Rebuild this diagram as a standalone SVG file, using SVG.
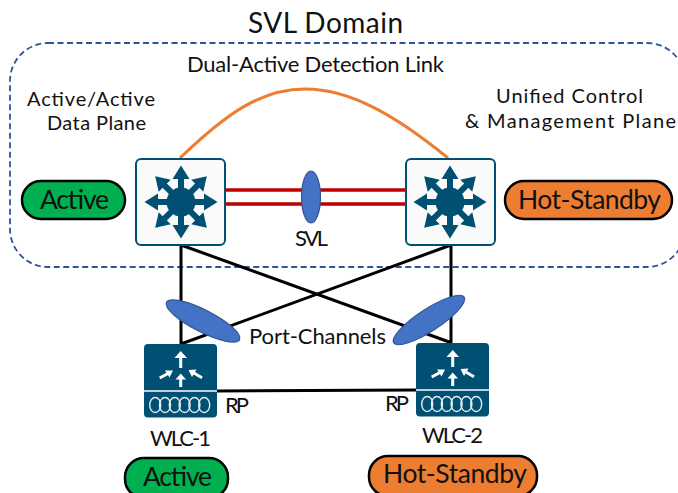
<svg xmlns="http://www.w3.org/2000/svg" width="678" height="493" viewBox="0 0 678 493">
<style>
text{font-family:"Lato","Open Sans","Liberation Sans",sans-serif;fill:#111;text-anchor:middle}
.lbl{font-size:22px}
.sm{font-size:20px}
.pill{font-size:26.500px}
.pl{stroke:#000;stroke-width:2.500}
.blk{stroke:#000;stroke-width:3;fill:none}
.red{stroke:#c00000;stroke-width:3.500;fill:none}
.el{fill:#4472c4;stroke:#2f5597;stroke-width:1.200}
.sw{fill:#fafafa;stroke:#005073;stroke-width:2}
.wl{fill:#005073}
.wa{stroke:#fff;stroke-width:3;fill:none}
.wh{fill:#fff}
</style>
<defs>
<g id="arrow"><path d="M-3 -10V-23H-8.500L0 -36.500L8.500 -23H3V-10Z" fill="#005073"/></g>
<g id="hub"><circle r="14.500" fill="#005073"/>
<use href="#arrow"/><use href="#arrow" transform="rotate(45)"/><use href="#arrow" transform="rotate(90)"/><use href="#arrow" transform="rotate(135)"/><use href="#arrow" transform="rotate(180)"/><use href="#arrow" transform="rotate(225)"/><use href="#arrow" transform="rotate(270)"/><use href="#arrow" transform="rotate(315)"/></g>
<g id="wlc">
<rect x="0" y="0" width="73" height="73.500" rx="4" class="wl"/>
<path d="M0 47H73" stroke="#fff" stroke-width="1.500"/>
<g class="wa">
<path d="M36.700 24V12"/>
<path d="M36.700 43V34"/>
<path d="M15.700 34L24 29.500"/>
<path d="M58 33.700L49 28.500"/>
</g>
<g class="wh">
<path d="M30.500 14L36.700 7L43 14Z"/>
<path d="M31.500 35.500L36.700 29.500L42 35.500Z"/>
<path d="M21 26.500L29 26.500L25.500 33.500Z"/>
<path d="M52.500 25.500L44.500 26L48 33Z"/>
</g>
<g fill="none" stroke="#fff" stroke-width="1.400" opacity=".9">
<ellipse cx="11.200" cy="61" rx="5.500" ry="7.500"/><ellipse cx="21" cy="61" rx="5.500" ry="7.500"/><ellipse cx="30.800" cy="61" rx="5.500" ry="7.500"/><ellipse cx="40.600" cy="61" rx="5.500" ry="7.500"/><ellipse cx="50.400" cy="61" rx="5.500" ry="7.500"/><ellipse cx="60.200" cy="61" rx="5.500" ry="7.500"/>
</g>
</g>
</defs>
<rect width="678" height="493" fill="#fff"/>
<text x="325.500" y="33" font-size="28" textLength="155">SVL Domain</text>
<rect id="domain" x="10" y="43" width="675" height="224" rx="38" fill="none" stroke="#2f5597" stroke-width="1.800" stroke-dasharray="6 3.500"/>
<g id="connectors">
<path d="M180 158C225 115 260 89 305 89S395 115 448 158" fill="none" stroke="#ed7d31" stroke-width="3"/>
<path class="red" d="M225 190H406M225 204H406"/>
<path class="blk" d="M181 245V344M181 245L452 343M451 245L181 344M451 245V343M217 391L416 390"/>
</g>
<g id="svl-link"><ellipse class="el" cx="311" cy="197" rx="9.500" ry="26"/><text class="lbl" x="311.500" y="246" textLength="33">SVL</text></g>
<g id="switch-1"><rect class="sw" x="136" y="159" width="89" height="86" rx="5"/><use href="#hub" x="181" y="202"/></g>
<g id="switch-2"><rect class="sw" x="406" y="159" width="89" height="86" rx="5"/><use href="#hub" x="450" y="202"/></g>
<g id="pc-left"><ellipse class="el" cx="203" cy="321" rx="41" ry="11" transform="rotate(27 203 321)"/></g>
<g id="pc-right"><ellipse class="el" cx="429" cy="320" rx="42" ry="11" transform="rotate(-33 429 320)"/></g>
<g id="wlc-1"><use href="#wlc" x="144" y="344"/><text class="lbl" x="237" y="413" textLength="24">RP</text><text class="lbl" x="180.500" y="446" textLength="61">WLC-1</text></g>
<g id="wlc-2"><use href="#wlc" x="416" y="343"/><text class="lbl" x="397" y="411" textLength="24">RP</text><text class="lbl" x="452.500" y="443" textLength="61">WLC-2</text></g>
<text class="lbl" x="315.500" y="72" textLength="257">Dual-Active Detection Link</text>
<text class="sm" x="91" y="106" textLength="128">Active/Active</text>
<text class="sm" x="96.500" y="130" textLength="99">Data Plane</text>
<text class="sm" x="569.500" y="103" textLength="147">Unified Control</text>
<text class="sm" x="570.500" y="128" textLength="211">&amp; Management Plane</text>
<text class="lbl" x="317.500" y="344" textLength="137">Port-Channels</text>
<g id="state-active"><rect class="pl" x="22" y="181" width="103" height="38" rx="19" fill="#00b050"/><text class="pill" x="74.500" y="209" textLength="69">Active</text></g>
<g id="state-standby"><rect class="pl" x="505" y="181" width="167" height="38" rx="19" fill="#ed7d31"/><text class="pill" x="589.500" y="209" textLength="143">Hot-Standby</text></g>
<g id="state-active-2"><rect class="pl" x="125" y="458" width="103" height="40" rx="19" fill="#00b050"/><text class="pill" x="177.500" y="486" textLength="69">Active</text></g>
<g id="state-standby-2"><rect class="pl" x="369" y="456" width="168" height="40" rx="19" fill="#ed7d31"/><text class="pill" x="455" y="483" textLength="144">Hot-Standby</text></g>
</svg>
